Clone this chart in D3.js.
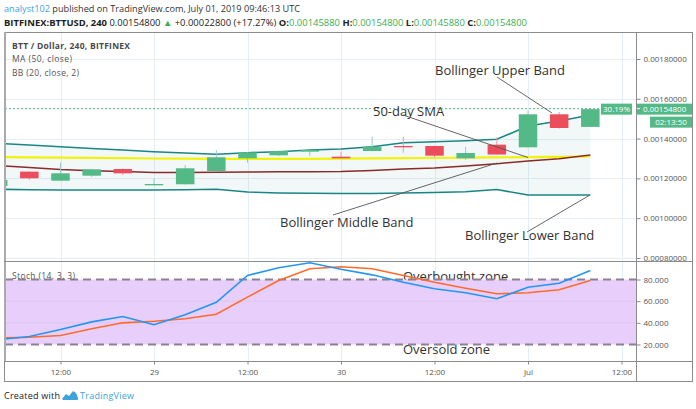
<!DOCTYPE html>
<html><head><meta charset="utf-8">
<script src="https://cdn.jsdelivr.net/npm/d3@7"></script>
<style>
body{margin:0;background:#fff;}
svg{display:block;font-family:"Open Sans",sans-serif;}
</style>
</head><body>
<svg id="c" width="696" height="409"></svg>
<script>
// ---------- DATA ----------
const candleTimes = ["2019-06-28T04:00Z","2019-06-28T08:00Z","2019-06-28T12:00Z","2019-06-28T16:00Z","2019-06-28T20:00Z",
  "2019-06-29T00:00Z","2019-06-29T04:00Z","2019-06-29T08:00Z","2019-06-29T12:00Z","2019-06-29T16:00Z","2019-06-29T20:00Z",
  "2019-06-30T00:00Z","2019-06-30T04:00Z","2019-06-30T08:00Z","2019-06-30T12:00Z","2019-06-30T16:00Z","2019-06-30T20:00Z",
  "2019-07-01T00:00Z","2019-07-01T04:00Z","2019-07-01T08:00Z"];
const openP  = [0.001162,0.001234,0.0011885,0.0012136,0.0012472,0.0011653,0.0011704,0.0012372,0.001301,0.0013161,0.0013342,0.0013091,0.0013377,0.0013628,0.0013628,0.001301,0.0013694,0.0013563,0.0015221,0.0014588];
const highP  = [0.001195,0.001236,0.001279,0.001247,0.001249,0.0011985,0.0012673,0.0013427,0.001333,0.00134,0.001344,0.0013342,0.0014096,0.0014096,0.001364,0.0013593,0.0014065,0.0015437,0.0015337,0.001548];
const lowP   = [0.00116,0.001192,0.001187,0.001207,0.0012171,0.001164,0.001169,0.001236,0.001279,0.0013126,0.0013126,0.0013,0.001336,0.0013292,0.001304,0.0012925,0.00132,0.001354,0.00145,0.0014588];
const closeP = [0.001192,0.0012005,0.0012256,0.0012457,0.0012256,0.0011719,0.0012508,0.001306,0.0013312,0.0013377,0.0013427,0.001301,0.0013593,0.0013563,0.0013141,0.0013277,0.00132,0.0015221,0.0014533,0.001548];
const bbUpper  = [0.0013754,0.0013679,0.0013593,0.0013502,0.0013427,0.0013342,0.0013277,0.0013211,0.0013292,0.0013342,0.0013427,0.0013478,0.0013593,0.0013794,0.0013844,0.0013894,0.0013965,0.0014633,0.0014885,0.0015186];
const bbMiddle = [0.0012648,0.0012548,0.0012447,0.0012387,0.0012347,0.0012297,0.0012297,0.0012307,0.0012322,0.0012332,0.0012337,0.0012347,0.0012397,0.0012472,0.0012523,0.0012623,0.0012739,0.0012874,0.0012990,0.0013176];
const bbLower  = [0.0011452,0.0011432,0.0011417,0.0011417,0.0011417,0.0011417,0.0011432,0.0011452,0.0011317,0.0011267,0.0011251,0.0011241,0.0011241,0.0011267,0.0011292,0.0011332,0.0011442,0.0011166,0.0011166,0.0011166];
const ma50     = [0.0013076,0.0013060,0.0013045,0.0013030,0.0013015,0.0013000,0.0012990,0.0012985,0.0012980,0.0012980,0.0012985,0.0012995,0.0013005,0.0013015,0.0013025,0.0013040,0.0013055,0.0013071,0.0013086,0.0013101];
const stochK = [24.5,27.4,33.8,40.9,45.8,38.2,47.4,59,83.7,90.8,95.4,89.5,84.3,77.5,71.4,67.7,62.2,72.9,76.6,88.3];
const stochD = [26,26.7,28.3,34.5,40,41.5,43.7,48,63.7,79,89.9,91.7,89.9,83.7,77.5,72,66.8,67.7,70.5,79.1];
const priceTicks = [0.0008,0.001,0.0012,0.0014,0.0016,0.0018];
const priceTickLabels = ["0.00080000","0.00100000","0.00120000","0.00140000","0.00160000","0.00180000"];
const stochTicks = [20,40,60,80];
const stochTickLabels = ["20.000","40.000","60.000","80.000"];
const timeTicks = ["2019-06-28T12:00Z","2019-06-29T00:00Z","2019-06-29T12:00Z","2019-06-30T00:00Z","2019-06-30T12:00Z","2019-07-01T00:00Z","2019-07-01T12:00Z"];
const timeTickLabels = ["12:00","29","12:00","30","12:00","Jul","12:00"];
const bandLevels = [20,80];

// ---------- LAYOUT ----------
const svg = d3.select("#c");
const xL=5, xR=636, pTop=32, pBot=261, sTop=261, sBot=361, fR=692, fB=381;
const x = d3.scaleUtc().domain([new Date("2019-06-29T00:00Z"), new Date("2019-07-01T00:00Z")]).range([154,528]);
const yP = d3.scaleLinear().domain([0.0008,0.0018]).range([258,59]);
const yS = d3.scaleLinear().domain([20,80]).range([344.5,279.5]);
const T = candleTimes.map(d=>new Date(d));
const TT = timeTicks.map(d=>new Date(d));

const defs = svg.append("defs");
defs.append("clipPath").attr("id","cp").append("rect").attr("x",xL).attr("y",pTop).attr("width",xR-xL).attr("height",pBot-pTop);
defs.append("clipPath").attr("id","cs").append("rect").attr("x",xL).attr("y",sTop).attr("width",xR-xL).attr("height",sBot-sTop);

// grid
const grid = svg.append("g").attr("stroke","#e6eef5").attr("stroke-width",1);
TT.forEach(t=>{ grid.append("line").attr("x1",Math.round(x(t))+0.5).attr("x2",Math.round(x(t))+0.5).attr("y1",pTop).attr("y2",sBot); });
priceTicks.forEach(p=>{ grid.append("line").attr("x1",xL).attr("x2",xR).attr("y1",Math.round(yP(p))+0.5).attr("y2",Math.round(yP(p))+0.5); });

// price pane
const gp = svg.append("g").attr("clip-path","url(#cp)");
const idx = d3.range(T.length);
gp.append("path").datum(idx)
  .attr("d", d3.area().x(i=>x(T[i])).y0(i=>yP(bbLower[i])).y1(i=>yP(bbUpper[i])))
  .attr("fill","#1e8c8c").attr("fill-opacity",0.06);
const ln = arr => d3.line().x(i=>x(T[i])).y(i=>yP(arr[i]));
gp.append("path").datum(idx).attr("d",ln(bbUpper)).attr("fill","none").attr("stroke","#1b8585").attr("stroke-width",1.6);
gp.append("path").datum(idx).attr("d",ln(bbLower)).attr("fill","none").attr("stroke","#1b8585").attr("stroke-width",1.6);
gp.append("path").datum(idx).attr("d",ln(ma50)).attr("fill","none").attr("stroke","#f2f20a").attr("stroke-width",2.2);
gp.append("path").datum(idx).attr("d",ln(bbMiddle)).attr("fill","none").attr("stroke","#8a2a2a").attr("stroke-width",1.6);

const bw = 18.5;
idx.forEach(i=>{
  const up = closeP[i]>=openP[i];
  const cx = x(T[i]);
  gp.append("line").attr("x1",cx).attr("x2",cx).attr("y1",yP(highP[i])).attr("y2",yP(lowP[i]))
    .attr("stroke", up?"#9fc2d2":"#f19aa4").attr("stroke-width",1);
  const y0 = yP(Math.max(openP[i],closeP[i])), y1 = yP(Math.min(openP[i],closeP[i]));
  gp.append("rect").attr("x",cx-bw/2).attr("y",y0).attr("width",bw).attr("height",Math.max(1.2,y1-y0))
    .attr("fill", up?"#53b987":"#eb4d5c");
});

// last price dotted line
const last = closeP[closeP.length-1];
svg.append("line").attr("x1",xL).attr("x2",601).attr("y1",yP(last)-0.5).attr("y2",yP(last)-0.5)
  .attr("stroke","#53b987").attr("stroke-width",1).attr("stroke-dasharray","2,2");

// annotations
const ann = svg.append("g").attr("fill","#333").attr("font-size",13);
const annLines = svg.append("g").attr("stroke","#555").attr("stroke-width",0.9);
ann.append("text").attr("x",435).attr("y",75).text("Bollinger Upper Band");
annLines.append("line").attr("x1",497).attr("y1",77).attr("x2",552).attr("y2",113);
ann.append("text").attr("x",373).attr("y",115.5).text("50-day SMA");
annLines.append("line").attr("x1",403).attr("y1",115).attr("x2",528).attr("y2",157.5);
ann.append("text").attr("x",280).attr("y",226.5).text("Bollinger Middle Band");
annLines.append("line").attr("x1",333).attr("y1",215).attr("x2",497).attr("y2",163);
ann.append("text").attr("x",465).attr("y",239.5).text("Bollinger Lower Band");
annLines.append("line").attr("x1",527).attr("y1",232).attr("x2",590).attr("y2",195);

// stoch pane
const gs = svg.append("g").attr("clip-path","url(#cs)");
gs.append("rect").attr("x",xL).attr("width",xR-xL).attr("y",yS(80)).attr("height",yS(20)-yS(80)).attr("fill","#e8cffb");
[40,60].forEach(v=>gs.append("line").attr("x1",xL).attr("x2",xR).attr("y1",yS(v)).attr("y2",yS(v)).attr("stroke","#dcc4f2").attr("stroke-width",1));
bandLevels.forEach(v=>gs.append("line").attr("x1",xL).attr("x2",xR).attr("y1",yS(v)).attr("y2",yS(v))
  .attr("stroke","#8a8290").attr("stroke-width",2).attr("stroke-dasharray","8,5"));
const sl = arr => d3.line().x(i=>x(T[i])).y(i=>yS(arr[i]));
gs.append("path").datum(idx).attr("d",sl(stochD)).attr("fill","none").attr("stroke","#ff6a2a").attr("stroke-width",1.6);
gs.append("path").datum(idx).attr("d",sl(stochK)).attr("fill","none").attr("stroke","#2196f3").attr("stroke-width",1.6);
ann.append("text").attr("x",403).attr("y",280.5).text("Overbought zone");
ann.append("text").attr("x",403).attr("y",353.5).text("Oversold zone");

// frame
const fr = svg.append("g").attr("stroke","#8c8c8c").attr("fill","none");
fr.append("rect").attr("x",4.5).attr("y",32.5).attr("width",fR-4).attr("height",fB-32);
fr.append("line").attr("x1",5).attr("x2",5).attr("y1",32).attr("y2",sBot).attr("stroke","#aaa").attr("stroke-width",2);
fr.append("line").attr("x1",4).attr("x2",fR).attr("y1",pBot+0.5).attr("y2",pBot+0.5);
fr.append("line").attr("x1",4).attr("x2",fR).attr("y1",sBot+0.5).attr("y2",sBot+0.5);
fr.append("line").attr("x1",xR+0.5).attr("x2",xR+0.5).attr("y1",32).attr("y2",fB);

// axes
const styleAxis = g => { g.select(".domain").remove(); g.selectAll("line").attr("stroke","#888");
  g.selectAll("text").attr("fill","#555").attr("font-size",8).attr("font-family","'Open Sans',sans-serif"); };
svg.append("g").attr("transform",`translate(${xR+0.5},0)`)
  .call(d3.axisRight(yP).tickValues(priceTicks).tickFormat((d,i)=>priceTickLabels[i]).tickSize(4).tickPadding(3)).call(styleAxis);
svg.append("g").attr("transform",`translate(${xR+0.5},0)`)
  .call(d3.axisRight(yS).tickValues(stochTicks).tickFormat((d,i)=>stochTickLabels[i]).tickSize(4).tickPadding(3)).call(styleAxis);
svg.append("g").attr("transform",`translate(0,${sBot+0.5})`)
  .call(d3.axisBottom(x).tickValues(TT).tickFormat((d,i)=>timeTickLabels[i]).tickSize(3).tickPadding(5)).call(styleAxis);

// price labels on axis
const ly = yP(last)-0.5;
svg.append("rect").attr("x",601).attr("y",ly-5).attr("width",31).attr("height",11).attr("fill","#53b987");
svg.append("text").attr("x",616.5).attr("y",ly+3).attr("text-anchor","middle").attr("fill","#fff").attr("font-size",8).text("30.19%");
svg.append("rect").attr("x",637).attr("y",ly-5).attr("width",55).attr("height",11).attr("fill","#53b987");
svg.append("line").attr("x1",637).attr("x2",640).attr("y1",ly).attr("y2",ly).attr("stroke","#fff");
svg.append("text").attr("x",643).attr("y",ly+3).attr("fill","#fff").attr("font-size",8).text("0.00154800");
svg.append("rect").attr("x",650).attr("y",ly+8).attr("width",42).attr("height",11).attr("fill","#53b987");
svg.append("text").attr("x",671).attr("y",ly+16.5).attr("text-anchor","middle").attr("fill","#fff").attr("font-size",8).text("02:13:50");

// legends
svg.append("text").attr("x",12).attr("y",49).attr("font-size",8.5).attr("font-weight","bold").attr("fill","#4a4a4a").attr("textLength",118).text("BTT / Dollar, 240, BITFINEX");
svg.append("text").attr("x",12).attr("y",62).attr("font-size",8.5).attr("fill","#555").attr("textLength",60).text("MA (50, close)");
svg.append("text").attr("x",12).attr("y",76).attr("font-size",8.5).attr("fill","#555").attr("textLength",67).text("BB (20, close, 2)");
svg.append("text").attr("x",12).attr("y",278.5).attr("font-size",8.5).attr("fill","#555").attr("textLength",63).text("Stoch (14, 3, 3)");

// header
const h1 = svg.append("text").attr("x",4).attr("y",12).attr("font-size",9).attr("fill","#333").attr("textLength",296).attr("lengthAdjust","spacingAndGlyphs");
h1.append("tspan").attr("fill","#3d9fdb").text("analyst102");
h1.append("tspan").text(" published on TradingView.com, July 01, 2019 09:46:13 UTC");
const h2 = svg.append("text").attr("x",4).attr("y",25.5).attr("font-size",9).attr("fill","#222").attr("textLength",523).attr("lengthAdjust","spacingAndGlyphs");
const G="#3cae4f";
[["BITFINEX:BTTUSD, 240","bold",null],[" 0.00154800 ",null,null],["▲",null,G],[" +0.00022800 (+17.27%) ",null,null],
 ["O:","bold",null],["0.00145880",null,G],[" H:","bold",null],["0.00154800",null,G],[" L:","bold",null],["0.00145880",null,G],
 [" C:","bold",null],["0.00154800",null,G]].forEach(([t,w,c])=>{
  const s=h2.append("tspan").text(t); if(w) s.attr("font-weight",w); if(c) s.attr("fill",c); });

// footer
svg.append("text").attr("x",4).attr("y",399).attr("font-size",9).attr("fill","#222").attr("textLength",56).text("Created with");
svg.append("path").attr("d","M62,399 L66,394 L69,396 L73,391 L76,393 L78,398 Q79,400 76,400 L63,400 Z").attr("fill","#3da3dc");
svg.append("text").attr("x",80).attr("y",399).attr("font-size",9).attr("fill","#3da3dc").attr("textLength",54).text("TradingView");
</script>
</body></html>
